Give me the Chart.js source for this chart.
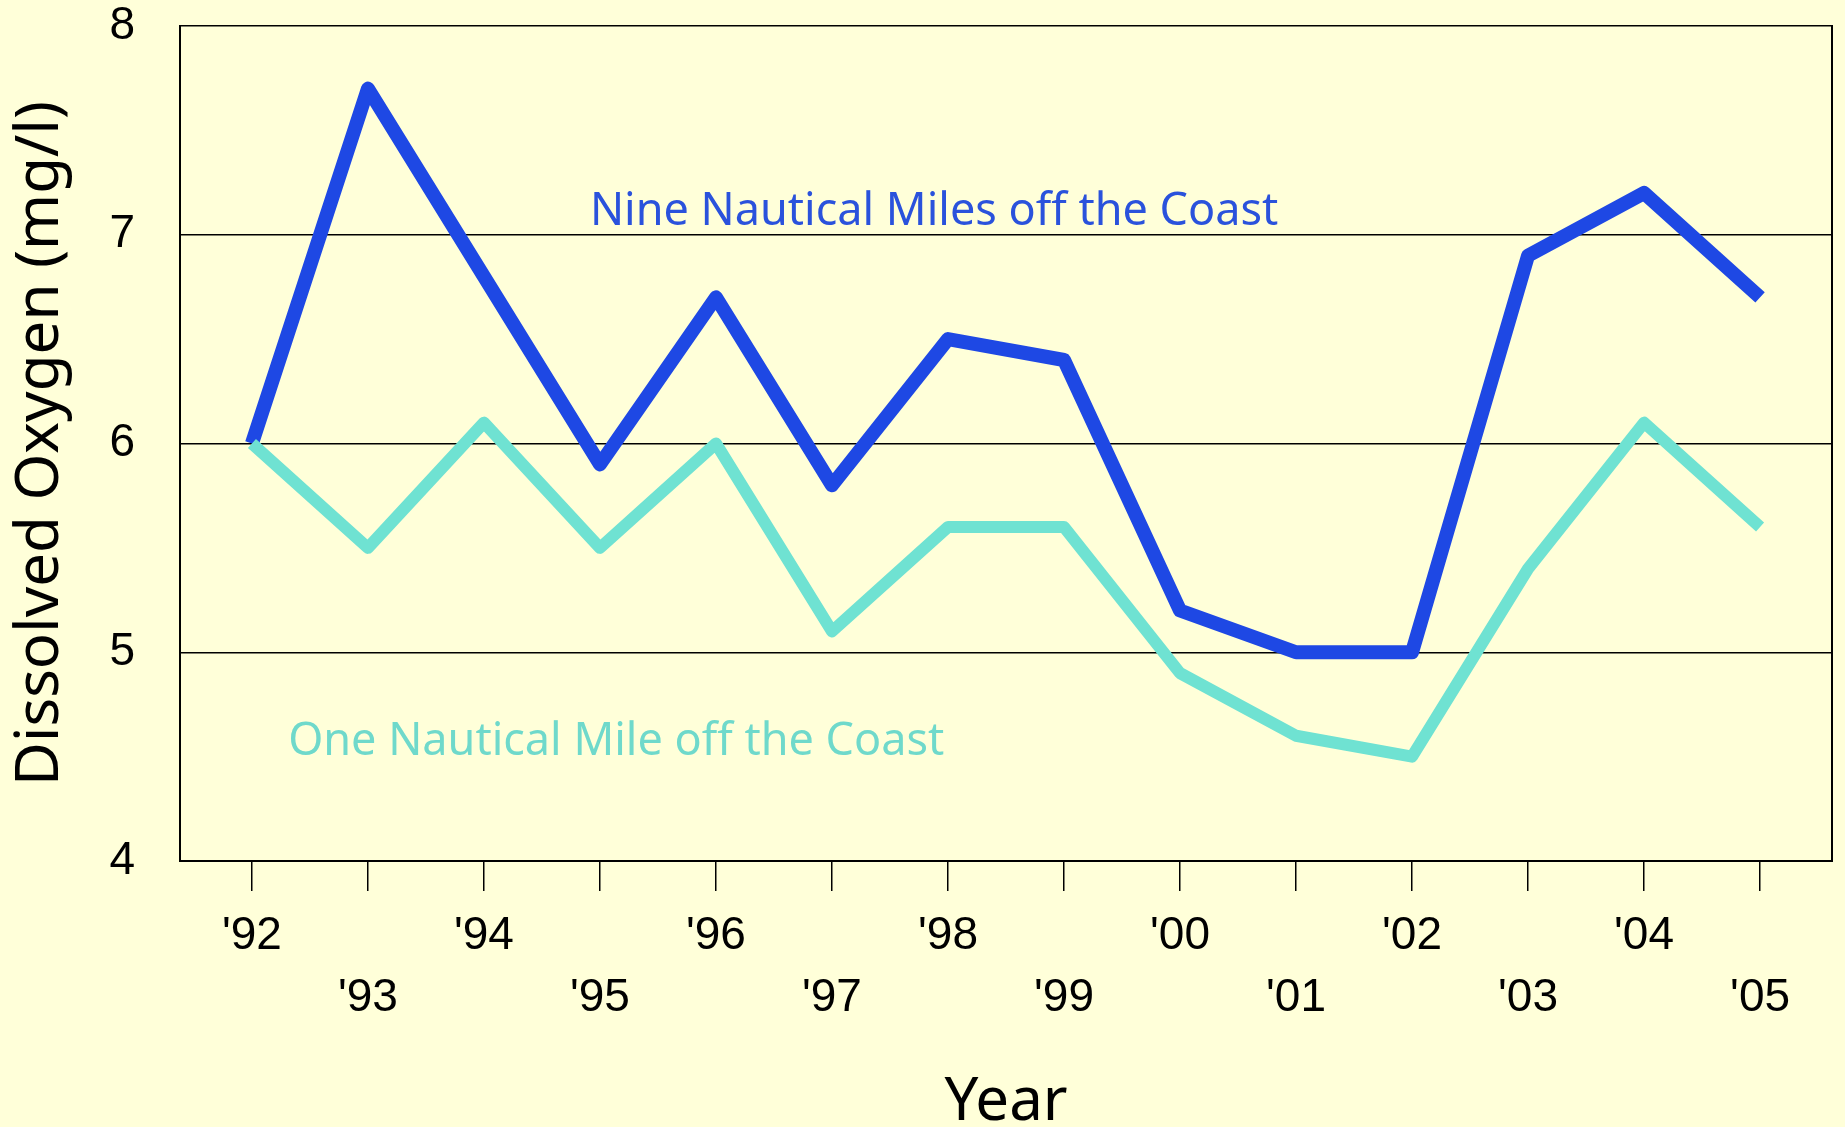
<!DOCTYPE html>
<html>

<head>
  <script src="https://cdn.jsdelivr.net/npm/chart.js"></script>
  <style>
    html, body { margin: 0; padding: 0; background: #ffffd9; }
    #wrap { width: 1845px; height: 1127px; }
  </style>
</head>

<body>
  <div id="wrap"><canvas id="oxygenChart"></canvas></div>

  <script>
    const years = ["'92", "'93", "'94", "'95", "'96", "'97", "'98", "'99", "'00", "'01", "'02", "'03", "'04", "'05"];
    const nineMiles = [6.0, 7.7, 6.8, 5.9, 6.7, 5.8, 6.5, 6.4, 5.2, 5.0, 5.0, 6.9, 7.2, 6.7];
    const oneMile = [6.0, 5.5, 6.1, 5.5, 6.0, 5.1, 5.6, 5.6, 4.9, 4.6, 4.5, 5.4, 6.1, 5.6];
    const yTicks = [4, 5, 6, 7, 8];

    // label positions in data units (x = year index, y = mg/l)
    const notes = [
      { text: "Nine Nautical Miles off the Coast", x: 5.88, y: 7.11, color: "#2a52dc" },
      { text: "One Nautical Mile off the Coast", x: 3.14, y: 4.57, color: "#6fd9cb" }
    ];

    const tickFont = { family: "'Liberation Sans', Arial, sans-serif", size: 46, lineHeight: 1.35 };
    const titleFont = { family: "'Comic Sans MS', 'Noto Sans', sans-serif", size: 60, lineHeight: 0.8 };

    const background = {
      id: "background",
      beforeDraw(chart) {
        const ctx = chart.ctx;
        ctx.save();
        ctx.fillStyle = "#ffffd9";
        ctx.fillRect(0, 0, chart.width, chart.height);
        ctx.restore();
      }
    };

    const lineNotes = {
      id: "lineNotes",
      afterDatasetsDraw(chart) {
        const ctx = chart.ctx;
        const xs = chart.scales.x, ys = chart.scales.y;
        ctx.save();
        ctx.font = "45px 'Comic Sans MS', 'Noto Sans', sans-serif";
        ctx.textAlign = "center";
        ctx.textBaseline = "middle";
        notes.forEach(n => {
          ctx.fillStyle = n.color;
          ctx.fillText(n.text, xs.getPixelForValue(n.x), ys.getPixelForValue(n.y));
        });
        ctx.restore();
      }
    };

    function points(values) {
      return values.map((v, i) => ({ x: i, y: v }));
    }

    new Chart(document.getElementById("oxygenChart"), {
      type: "line",
      data: {
        datasets: [
          {
            label: "One Nautical Mile off the Coast",
            data: points(oneMile),
            borderColor: "#6fe2d2",
            borderWidth: 12,
            borderJoinStyle: "round",
            pointRadius: 0,
            tension: 0,
            order: 1
          },
          {
            label: "Nine Nautical Miles off the Coast",
            data: points(nineMiles),
            borderColor: "#1e48e4",
            borderWidth: 14,
            borderJoinStyle: "round",
            pointRadius: 0,
            tension: 0,
            order: 2
          }
        ]
      },
      options: {
        responsive: true,
        maintainAspectRatio: false,
        animation: false,
        layout: { padding: { top: 26, left: 0, right: 0, bottom: 0 } },
        plugins: {
          legend: { display: false },
          tooltip: { enabled: false }
        },
        scales: {
          x: {
            type: "linear",
            min: -0.62,
            max: years.length - 1 + 0.62,
            afterBuildTicks(scale) {
              scale.ticks = years.map((_, i) => ({ value: i }));
            },
            afterFit(scale) { scale.height = 266; },
            grid: { drawOnChartArea: false, drawTicks: true, tickLength: 30, color: "#000", lineWidth: 1.5 },
            border: { display: true, color: "#000", width: 2 },
            ticks: {
              color: "#000",
              font: tickFont,
              padding: 14,
              maxRotation: 0,
              autoSkip: false,
              callback: (value) => value % 2 === 0 ? [years[value]] : ["", years[value]]
            },
            title: {
              display: true,
              text: "Year",
              color: "#000",
              font: titleFont,
              padding: { top: 0, bottom: 0 }
            }
          },
          y: {
            min: 4,
            max: 8,
            afterBuildTicks(scale) {
              scale.ticks = yTicks.map(v => ({ value: v }));
            },
            afterFit(scale) { scale.width = 180; },
            grid: { drawTicks: true, tickLength: 45, tickColor: "rgba(0,0,0,0)", color: "#000", lineWidth: 1.5 },
            border: { display: true, color: "#000", width: 2 },
            ticks: {
              color: "#000",
              font: { family: tickFont.family, size: 46, lineHeight: 1.1 },
              padding: 0
            },
            title: {
              display: true,
              text: "Dissolved Oxygen (mg/l)",
              color: "#000",
              font: { family: titleFont.family, size: 60, lineHeight: 1.2 },
              padding: { top: 5, bottom: 0 }
            }
          },
          yRight: {
            position: "right",
            min: 4,
            max: 8,
            afterFit(scale) { scale.width = 13; },
            grid: { display: false },
            border: { display: true, color: "#000", width: 2 },
            ticks: { display: false }
          }
        }
      },
      plugins: [background, lineNotes]
    });
  </script>
</body>

</html>
